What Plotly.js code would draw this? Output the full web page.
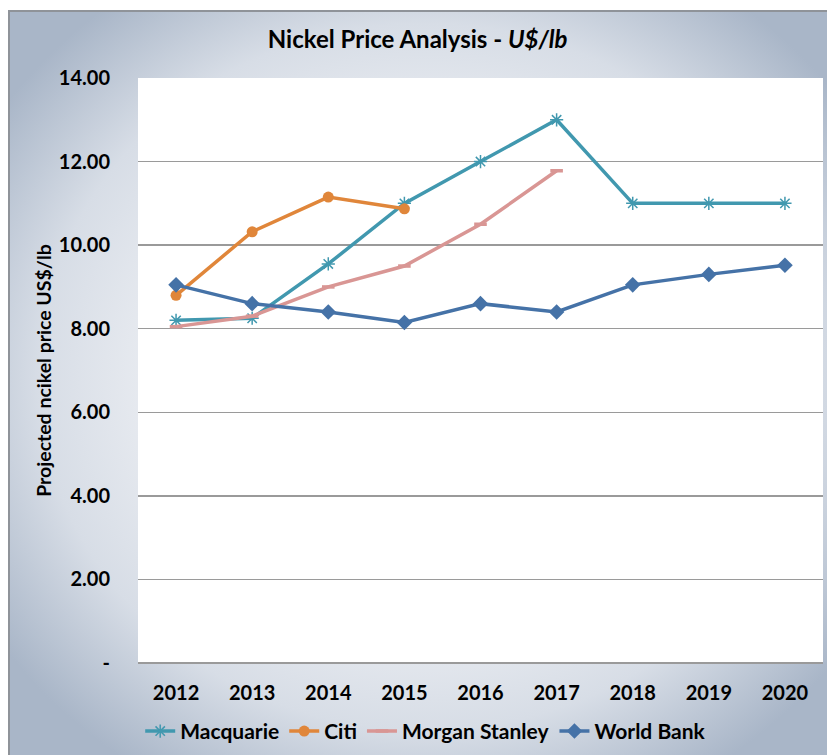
<!DOCTYPE html>
<html>
<head>
<meta charset="utf-8">
<script src="https://cdn.plot.ly/plotly-3.0.1.min.js"></script>
<style>
  html, body { margin: 0; padding: 0; background: #ffffff; }
  #wrap { position: relative; width: 827px; height: 755px; overflow: hidden; }
  #bg {
    position: absolute; left: 8px; top: 10px; width: 830px; height: 760px;
    border-left: 2px solid #8f9399; border-top: 2px solid #8f9399;
    background: radial-gradient(ellipse 62% 62% at 50% 48%, #f7f8fa 0%, #eef0f4 45%, #d7dde6 75%, #a9b6c8 100%);
  }
  #chart { position: absolute; left: 0; top: 0; width: 827px; height: 755px; }
</style>
</head>
<body>
<div id="wrap">
  <div id="bg"></div>
  <div id="chart"></div>
</div>
<script>
const years = ['2012','2013','2014','2015','2016','2017','2018','2019','2020'];
const macquarie = [8.2, 8.25, 9.55, 11.0, 12.0, 13.0, 11.0, 11.0, 11.0];
const citi = [8.8, 10.32, 11.15, 10.87];
const morganStanley = [8.05, 8.3, 9.0, 9.5, 10.5, 11.78];
const worldBank = [9.05, 8.6, 8.4, 8.15, 8.6, 8.4, 9.05, 9.3, 9.52];
const yTickVals = [0, 2, 4, 6, 8, 10, 12, 14];
const yTickText = ['-', '2.00', '4.00', '6.00', '8.00', '10.00', '12.00', '14.00'];

const FONT = 'Lato, "Open Sans", sans-serif';

const traces = [
  {
    name: 'Macquarie', x: years.slice(0, macquarie.length), y: macquarie,
    mode: 'lines+markers', type: 'scatter',
    line: {color: '#4198AF', width: 3.5},
    marker: {symbol: 'asterisk-open', size: 11, color: '#4198AF', line: {color: '#4198AF', width: 1.5}}
  },
  {
    name: 'Citi', x: years.slice(0, citi.length), y: citi,
    mode: 'lines+markers', type: 'scatter',
    line: {color: '#E0863A', width: 3.5},
    marker: {symbol: 'circle', size: 11, color: '#E0863A'}
  },
  {
    name: 'Morgan Stanley', x: years.slice(0, morganStanley.length), y: morganStanley,
    mode: 'lines+markers', type: 'scatter',
    line: {color: '#D99694', width: 3.5},
    marker: {symbol: 'line-ew-open', size: 9, color: '#D99694', line: {color: '#D99694', width: 3.5}}
  },
  {
    name: 'World Bank', x: years.slice(0, worldBank.length), y: worldBank,
    mode: 'lines+markers', type: 'scatter',
    line: {color: '#4572A7', width: 3.5},
    marker: {symbol: 'diamond', size: 12, color: '#4572A7'}
  }
];

const layout = {
  width: 827, height: 755,
  paper_bgcolor: 'rgba(0,0,0,0)',
  plot_bgcolor: '#ffffff',
  margin: {l: 138, r: 4, t: 78, b: 91},
  font: {family: FONT, color: '#000000'},
  title: {
    text: 'Nickel Price Analysis - <i>U$/lb</i>',
    font: {family: FONT, size: 24, weight: 'bold', color: '#000000'},
    x: 0.505, xanchor: 'center', y: 0.947, yanchor: 'middle'
  },
  xaxis: {
    type: 'category', categoryorder: 'array', categoryarray: years,
    range: [-0.5, 8.5],
    showgrid: false, zeroline: false,
    showline: false,
    ticks: 'outside', ticklen: 12, tickcolor: 'rgba(0,0,0,0)',
    tickfont: {family: FONT, size: 20, weight: 'bold', color: '#000000'}
  },
  yaxis: {
    range: [0, 14], tickvals: yTickVals, ticktext: yTickText,
    showgrid: true, gridcolor: '#9a9a9a', gridwidth: 1.5,
    zeroline: true, zerolinecolor: '#9a9a9a', zerolinewidth: 1.5,
    showline: false,
    ticks: 'outside', ticklen: 23, tickcolor: 'rgba(0,0,0,0)',
    tickfont: {family: FONT, size: 20, weight: 'bold', color: '#000000'},
    title: {
      text: 'Projected ncikel price US$/lb',
      font: {family: FONT, size: 19.5, weight: 'bold', color: '#000000'},
      standoff: 2
    }
  },
  showlegend: true,
  legend: {
    orientation: 'h', x: 0.42, xanchor: 'center', y: -0.115, yanchor: 'middle',
    font: {family: FONT, size: 21, weight: 'bold', color: '#000000'},
    bgcolor: 'rgba(0,0,0,0)', itemwidth: 30, tracegroupgap: 0
  }
};

Plotly.newPlot('chart', traces, layout, {displayModeBar: false, staticPlot: true});
</script>
</body>
</html>
